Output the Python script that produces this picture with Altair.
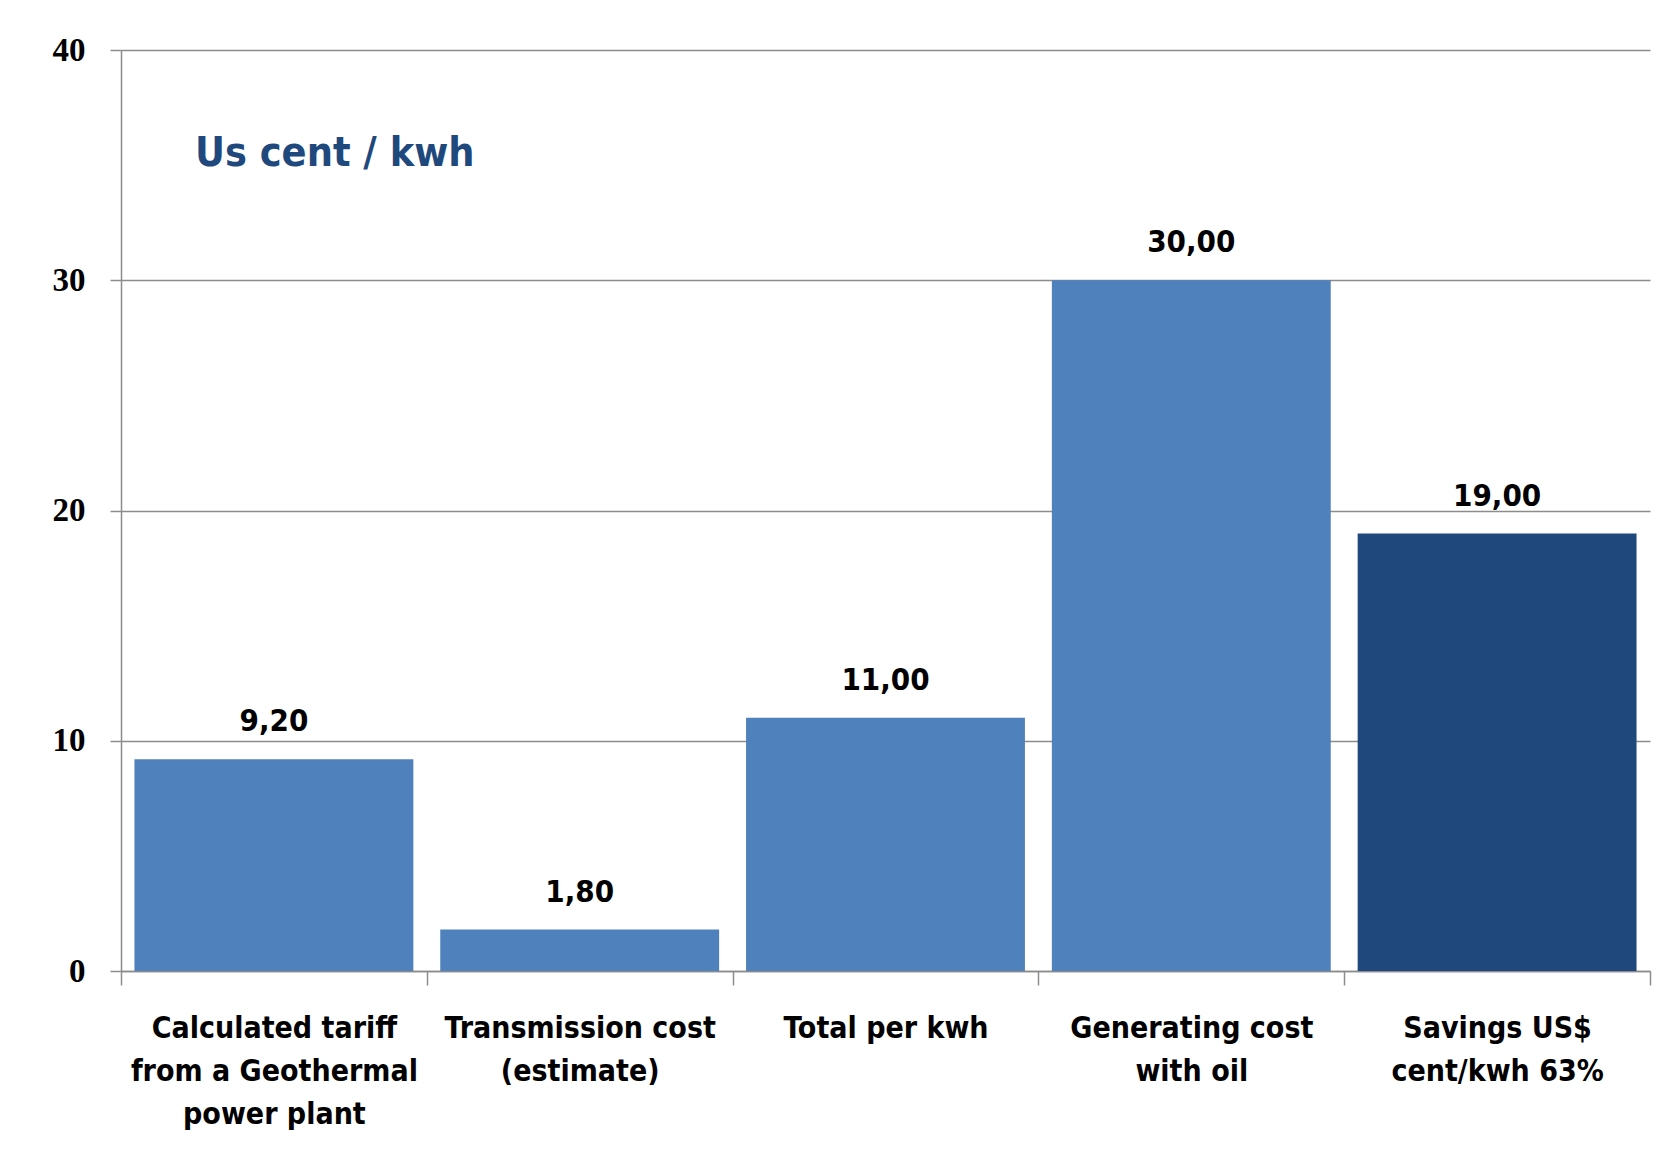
import altair as alt
import pandas as pd

categories = [
    "Calculated tariff|from a Geothermal|power plant",
    "Transmission cost|(estimate)",
    "Total per kwh",
    "Generating cost|with oil",
    "Savings US$|cent/kwh 63%",
]
values = [9.20, 1.80, 11.00, 30.00, 19.00]
bar_colors = ["#4F81BD", "#4F81BD", "#4F81BD", "#4F81BD", "#1F497D"]
value_labels = [f"{v:.2f}".replace(".", ",") for v in values]
y_ticks = [0, 10, 20, 30, 40]
title_text = "Us cent / kwh"

df = pd.DataFrame({
    "cat": categories,
    "value": values,
    "color": bar_colors,
    "label": value_labels,
})

FONT = "Liberation Sans Narrow, DejaVu Sans Condensed, Lato, sans-serif"

x_enc = alt.X(
    "cat:N",
    sort=categories,
    scale=alt.Scale(paddingInner=0, paddingOuter=0),
    axis=alt.Axis(
        title=None,
        labelAngle=0,
        labelExpr="split(datum.label, '|')",
        labelFont=FONT,
        labelFontSize=30,
        labelFontWeight="bold",
        labelColor="#000000",
        labelLineHeight=43,
        labelPadding=28,
        labelLimit=400,
        tickBand="extent",
        tickSize=14,
        tickColor="#8C8C8C",
        tickWidth=1.5,
        domainColor="#8C8C8C",
        domainWidth=1.5,
        grid=False,
    ),
)

y_enc = alt.Y(
    "value:Q",
    scale=alt.Scale(domain=[0, 40], nice=False),
    axis=alt.Axis(
        title=None,
        values=y_ticks,
        labelFont="Liberation Serif",
        labelFontSize=33,
        labelFontWeight="bold",
        labelColor="#000000",
        labelPadding=25,
        tickSize=11,
        tickColor="#8C8C8C",
        tickWidth=1.5,
        domainColor="#8C8C8C",
        domainWidth=1.5,
        grid=True,
        gridColor="#8C8C8C",
        gridWidth=1.5,
    ),
)

bars = alt.Chart(df).mark_bar(width=alt.RelativeBandSize(0.912)).encode(
    x=x_enc,
    y=y_enc,
    color=alt.Color("color:N", scale=None),
)

texts = alt.Chart(df).mark_text(
    font=FONT,
    fontSize=31,
    fontWeight="bold",
    color="#000000",
    baseline="alphabetic",
    dy=-28,
).encode(
    x=alt.X("cat:N", sort=categories),
    y=alt.Y("value:Q"),
    text="label:N",
)

chart = (
    alt.layer(bars, texts)
    .properties(
        width=1529,
        height=921,
        padding={"left": 113, "top": 42, "right": 20, "bottom": 180},
        autosize=alt.AutoSizeParams(type="none"),
        background="#FFFFFF",
        title=alt.TitleParams(
            text=title_text,
            anchor="start",
            orient="top",
            frame="group",
            font=FONT,
            fontSize=41,
            fontWeight="bold",
            color="#1F497D",
            baseline="alphabetic",
            offset=0,
            dx=74,
            dy=173,
        ),
    )
    .configure_view(stroke=None)
)

chart.save("out.html", embed_options={"renderer": "svg", "actions": False})
